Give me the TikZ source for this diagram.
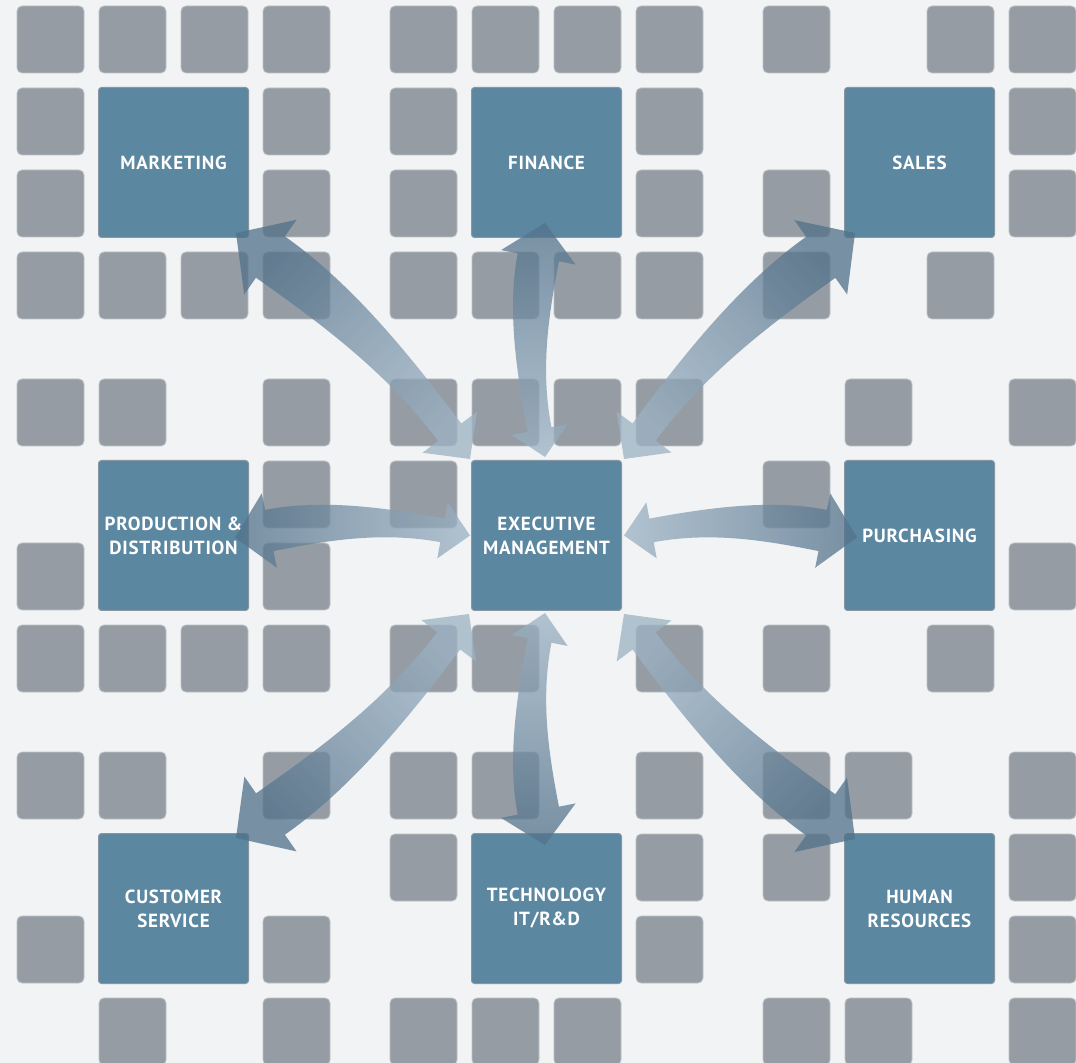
\documentclass[tikz,border=0pt]{standalone}
\usepackage{fontspec}
\setmainfont[LetterSpace=4]{PT Sans}
\usetikzlibrary{calc}
\definecolor{pagebg}{HTML}{F2F3F5}
\definecolor{cellgray}{HTML}{959CA3}
\definecolor{cellrim}{HTML}{BCC1C6}
\definecolor{deptblue}{HTML}{5B87A1}
\definecolor{deptrim}{HTML}{8796A2}
\definecolor{flowdark}{HTML}{52718A}
\definecolor{flowlight}{HTML}{9DB3C4}
\tikzset{
	cell/.style={rectangle, rounded corners=2.5pt, draw=cellrim, line width=0.4pt, fill=cellgray, minimum size=33.5pt, inner sep=0},
	dept/.style={rectangle, rounded corners=1.5pt, draw=deptrim, line width=0.5pt, fill=deptblue, minimum size=75pt, inner sep=0, text=white, font=\fontsize{9.5}{12}\selectfont\bfseries, align=center},
	flow/.style={top color=flowdark, bottom color=flowlight, fill opacity=0.76, draw=none},
}
% tapered double arrow: #1 centre end, #2 outer end, #3 bend, #4 size
\newcommand{\flowarrow}[4]{%
  \pgfmathsetmacro\fhc{14*#4}\pgfmathsetmacro\fHc{14.25*#4}\pgfmathsetmacro\fwc{6*#4}%
  \pgfmathsetmacro\fho{17.5*#4}\pgfmathsetmacro\fHo{19*#4}\pgfmathsetmacro\fwo{10.5*#4}%
  \path let \p1=(#1), \p2=(#2), \n1={atan2(\y2-\y1,\x2-\x1)} in
    \pgfextra{\pgfmathparse{\n1-90}\xdef\fang{\pgfmathresult}};
  \shade[flow, shading angle=\fang] let
      \p1=(#1), \p2=(#2),
      \n1={atan2(\y2-\y1,\x2-\x1)}, \n2={\n1+#3}, \n3={\n1-#3},
      \p3=($(\p1)+({\n2}:\fhc pt)$),
      \p4=($(\p2)+({\n3+180}:\fho pt)$),
      \n4={veclen(\x4-\x3,\y4-\y3)/3}
    in (\p2) -- ($(\p4)+({\n3+90}:\fHo pt)$) -- ($(\p4)+({\n3+90}:\fwo pt)$)
      .. controls +({\n3+180}:\n4) and +({\n2}:\n4) .. ($(\p3)+({\n2+90}:\fwc pt)$)
      -- ($(\p3)+({\n2+90}:\fHc pt)$) -- (\p1) -- ($(\p3)+({\n2-90}:\fHc pt)$)
      -- ($(\p3)+({\n2-90}:\fwc pt)$)
      .. controls +({\n2}:\n4) and +({\n3+180}:\n4) .. ($(\p4)+({\n3-90}:\fwo pt)$)
      -- ($(\p4)+({\n3-90}:\fHo pt)$) -- cycle;
}
\begin{document}
\begin{tikzpicture}[x=0.5pt, y=-0.5pt]
  \useasboundingbox (0,0) rectangle (1076,1063);
  \fill[pagebg] (0,0) rectangle (1076,1063);

  \foreach \r/\cl in {0/{0,1,2,3,4,5,6,7,8,10,11}, 1/{0,3,4,7,11}, 2/{0,3,4,7,8,11}, 3/{0,1,2,3,4,5,6,7,8,10},
                      4/{0,1,3,4,5,6,7,9,11}, 5/{3,4,8}, 6/{0,3,11}, 7/{0,1,2,3,4,5,7,8,10},
                      8/{0,1,3,4,5,7,8,9,11}, 9/{4,7,8,11}, 10/{0,3,7,11}, 11/{1,3,4,5,6,8,9,11}}
    \foreach \c in \cl
      \node[cell] (cell-\r-\c) at ({50.5+82*\c+45*floor(\c/4)}, {39.5+82*\r+45*floor(\r/4)}) {};

  \node[dept] (mkt) at (173.5,162.5) {MARKETING};
  \node[dept] (fin) at (546.5,162.5) {FINANCE};
  \node[dept] (sales) at (919.5,162.5) {SALES};
  \node[dept] (prod) at (173.5,535.5) {PRODUCTION \&\\DISTRIBUTION};
  \node[dept] (exec) at (546.5,535.5) {EXECUTIVE\\MANAGEMENT};
  \node[dept] (purch) at (919.5,535.5) {PURCHASING};
  \node[dept] (cust) at (173.5,908.5) {CUSTOMER\\SERVICE};
  \node[dept] (tech) at (546.5,908.5) {TECHNOLOGY\\IT/R\&D};
  \node[dept] (hr) at (919.5,908.5) {HUMAN\\RESOURCES};

  \flowarrow{$(exec.north west)+(-1,-1)$}{$(mkt.south east)+(-13,-5)$}{-9}{1.2}
  \flowarrow{$(exec.north)+(-1.5,-3)$}{$(fin.south)+(-1.5,-15)$}{11}{1}
  \flowarrow{$(exec.north east)+(2,-1)$}{$(sales.south west)+(11,-5)$}{9}{1.2}
  \flowarrow{$(exec.west)+(-1,0)$}{$(prod.east)+(-14,2)$}{-11}{1}
  \flowarrow{$(exec.east)+(2,0)$}{$(purch.west)+(13,2)$}{11}{1}
  \flowarrow{$(exec.south west)+(-2,3)$}{$(cust.north east)+(-13,5)$}{9}{1.2}
  \flowarrow{$(exec.south)+(-1.5,2)$}{$(tech.north)+(-1.5,12)$}{-11}{1}
  \flowarrow{$(exec.south east)+(2,3)$}{$(hr.north west)+(11,6)$}{-9}{1.2}
\end{tikzpicture}
\end{document}
